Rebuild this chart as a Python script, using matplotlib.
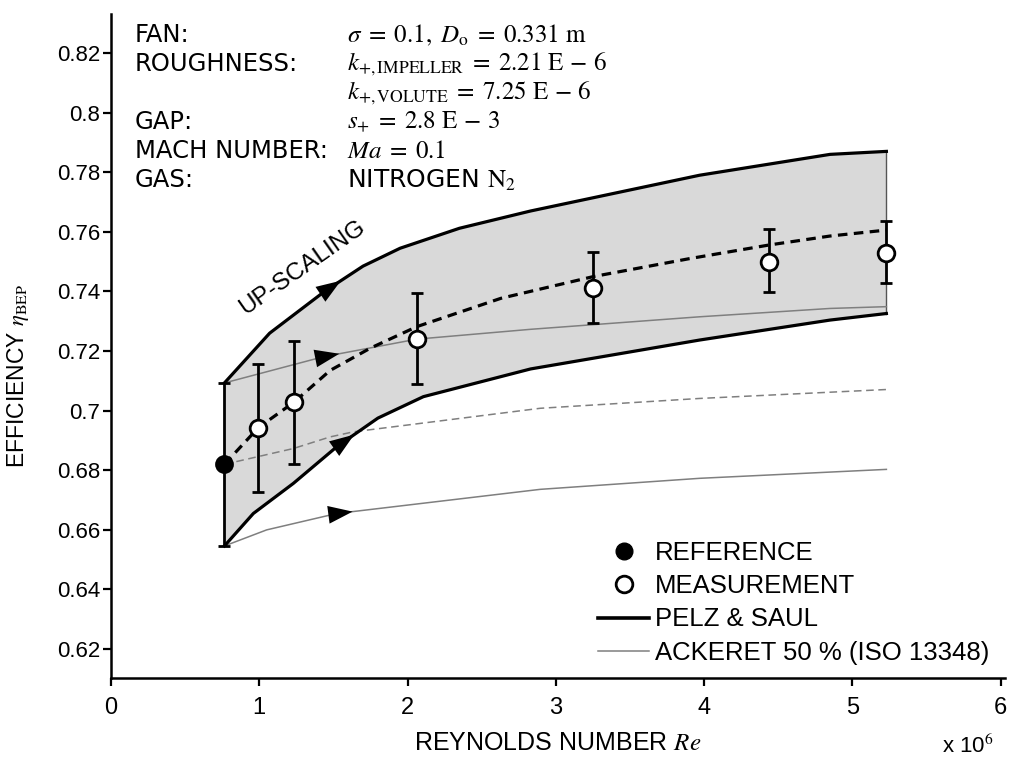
import numpy as np
import matplotlib
matplotlib.use("Agg")
import matplotlib.pyplot as plt
from matplotlib.lines import Line2D

plt.rcParams['mathtext.fontset'] = 'stix'

# ---------------- data ----------------
re_ref = [0.765]
eta_ref = [0.682]
ref_lo = [0.6546]
ref_hi = [0.7093]

re_meas = [0.994, 1.233, 2.063, 3.254, 4.44, 5.23]
eta_meas = [0.6943, 0.7028, 0.7239, 0.7412, 0.750, 0.753]
meas_lo = [0.6726, 0.682, 0.7089, 0.7295, 0.7397, 0.7429]
meas_hi = [0.7155, 0.7235, 0.7396, 0.7533, 0.7608, 0.7636]

fit_x = [0.765, 0.994, 1.233, 1.478, 1.75, 2.063, 2.63, 3.254, 3.9, 4.44, 4.85, 5.23]
fit_y = [0.682, 0.6943, 0.7028, 0.7135, 0.7210, 0.7282, 0.7377, 0.745, 0.751, 0.7556, 0.7586, 0.7606]

pelz_up_x = [0.765, 1.07, 1.44, 1.70, 1.95, 2.35, 2.83, 3.97, 4.85, 5.23]
pelz_up_y = [0.7093, 0.726, 0.740, 0.7485, 0.7545, 0.7612, 0.767, 0.779, 0.786, 0.787]

pelz_lo_x = [0.765, 0.96, 1.23, 1.523, 1.80, 2.107, 2.83, 3.97, 4.85, 5.23]
pelz_lo_y = [0.6546, 0.6655, 0.6756, 0.6879, 0.6975, 0.7047, 0.7140, 0.7237, 0.7304, 0.7326]

ack_up_x = [0.765, 1.433, 2.063, 2.83, 3.97, 4.85, 5.23]
ack_up_y = [0.7093, 0.7181, 0.724, 0.7273, 0.7315, 0.7343, 0.7349]

ack_mid_x = [0.765, 1.23, 1.478, 1.635, 2.895, 3.97, 5.23]
ack_mid_y = [0.682, 0.6873, 0.6912, 0.6929, 0.7008, 0.7041, 0.7071]

ack_lo_x = [0.765, 1.05, 1.523, 2.895, 3.97, 5.23]
ack_lo_y = [0.6546, 0.660, 0.6655, 0.6736, 0.6773, 0.6803]

y_ticks = [0.62, 0.64, 0.66, 0.68, 0.70, 0.72, 0.74, 0.76, 0.78, 0.80, 0.82]
y_ticklabels = ["0.62", "0.64", "0.66", "0.68", "0.7", "0.72", "0.74", "0.76", "0.78", "0.8", "0.82"]
x_ticks = [0, 1, 2, 3, 4, 5, 6]
x_ticklabels = ["0", "1", "2", "3", "4", "5", "6"]

info_labels = ["FAN:", "ROUGHNESS:", "", "GAP:", "MACH NUMBER:", "GAS:"]
info_values = [r"$\sigma\;=\;0.1,\ D_\mathrm{o}\;=\;0.331\ \mathrm{m}$",
               r"$k_{+,\mathrm{IMPELLER}}\;=\;2.21\ \mathrm{E}\,-\,6$",
               r"$k_{+,\mathrm{VOLUTE}}\;=\;7.25\ \mathrm{E}\,-\,6$",
               r"$s_{+}\;=\;2.8\ \mathrm{E}\,-\,3$",
               r"$Ma\;=\;0.1$",
               r"NITROGEN $\mathrm{N}_2$"]

legend_labels = ["REFERENCE", "MEASUREMENT", "PELZ & SAUL", "ACKERET 50 % (ISO 13348)"]

# ---------------- figure ----------------
W, H = 1009, 758
fig = plt.figure(figsize=(W / 100, H / 100), dpi=100)
ax = fig.add_axes([111 / W, 80 / H, (1005 - 111) / W, (678 - 14) / H])
ax.set_xlim(0, 6.03)
ax.set_ylim(0.6103, 0.8331)

sans = ['Liberation Sans', 'DejaVu Sans']
gray = '#7f7f7f'

# band
band_x = np.concatenate([pelz_up_x, pelz_lo_x[::-1]])
band_y = np.concatenate([pelz_up_y, pelz_lo_y[::-1]])
ax.fill(band_x, band_y, color='#d9d9d9', lw=0, zorder=1)
ax.plot([pelz_up_x[-1], pelz_lo_x[-1]], [pelz_up_y[-1], pelz_lo_y[-1]], color='#555555', lw=1.0, zorder=2)

# Ackeret lines
ax.plot(ack_up_x, ack_up_y, color=gray, lw=1.1, zorder=3)
ax.plot(ack_mid_x, ack_mid_y, color=gray, lw=1.1, ls=(0, (5, 3)), zorder=3)
ax.plot(ack_lo_x, ack_lo_y, color=gray, lw=1.1, zorder=3)

# Pelz lines
ax.plot(pelz_up_x, pelz_up_y, color='black', lw=2.3, zorder=4, solid_joinstyle='round')
ax.plot(pelz_lo_x, pelz_lo_y, color='black', lw=2.3, zorder=4, solid_joinstyle='round')

# fit line
ax.plot(fit_x, fit_y, color='black', lw=2.3, ls=(0, (3, 2)), zorder=5)

# arrows along curves
def arrow_on(xs, ys, xa):
    x0, x1 = xa - 0.06, xa + 0.06
    y0, y1 = np.interp(x0, xs, ys), np.interp(x1, xs, ys)
    ax.annotate('', xy=(x1, y1), xytext=(x0, y0),
                arrowprops=dict(arrowstyle='-|>,head_length=1.1,head_width=0.4',
                                color='black', lw=0, shrinkA=0, shrinkB=0,
                                mutation_scale=16), zorder=6)

arrow_on(pelz_up_x, pelz_up_y, 1.49)
arrow_on(ack_up_x, ack_up_y, 1.48)
arrow_on(pelz_lo_x, pelz_lo_y, 1.58)
arrow_on(ack_lo_x, ack_lo_y, 1.57)

# error bars
ax.errorbar(re_ref, eta_ref,
            yerr=[np.array(eta_ref) - np.array(ref_lo), np.array(ref_hi) - np.array(eta_ref)],
            fmt='none', ecolor='black', elinewidth=2.0, capsize=4.5, capthick=2.0, zorder=7)
ax.errorbar(re_meas, eta_meas,
            yerr=[np.array(eta_meas) - np.array(meas_lo), np.array(meas_hi) - np.array(eta_meas)],
            fmt='none', ecolor='black', elinewidth=2.0, capsize=4.5, capthick=2.0, zorder=7)

ax.plot(re_ref, eta_ref, 'o', ms=12, mfc='black', mec='black', mew=1.5, zorder=8)
ax.plot(re_meas, eta_meas, 'o', ms=12, mfc='white', mec='black', mew=2.0, zorder=8)

# axes styling
for s in ['top', 'right']:
    ax.spines[s].set_visible(False)
for s in ['left', 'bottom']:
    ax.spines[s].set_linewidth(1.8)
ax.set_yticks(y_ticks)
ax.set_yticklabels(y_ticklabels, family=sans, fontsize=16)
ax.set_xticks(x_ticks)
ax.set_xticklabels(x_ticklabels, family=sans, fontsize=17)
ax.tick_params(direction='out', length=6, width=1.6)
ax.tick_params(axis='y', pad=2)
ax.tick_params(axis='x', pad=8)

ax.set_xlabel(r"REYNOLDS NUMBER $Re$", family=sans, fontsize=18, labelpad=8)
ax.set_ylabel(r"EFFICIENCY $\eta_{\mathrm{BEP}}$", family=sans, fontsize=16.5)
ax.yaxis.set_label_coords(-0.09, 0.455)

fig.text(968 / W, 1 - 746 / H, r"x 10$^6$", family=sans, fontsize=16, ha='center', va='center')

# info block
rows_y = [35, 64, 93, 122, 151, 180]
for lab, val, yy in zip(info_labels, info_values, rows_y):
    if lab:
        fig.text(135 / W, 1 - yy / H, lab, family='DejaVu Sans', fontsize=17.5, va='center')
    fig.text(347 / W, 1 - yy / H, val, family='DejaVu Sans', fontsize=18, va='center')

# UP-SCALING label
fig.text(302 / W, 1 - 268 / H, "UP-SCALING", family=sans, fontsize=17.5,
         rotation=35, ha='center', va='center')

# legend
handles = [Line2D([], [], ls='none', marker='o', ms=12, mfc='black', mec='black'),
           Line2D([], [], ls='none', marker='o', ms=12, mfc='white', mec='black', mew=2.0),
           Line2D([], [], color='black', lw=2.6),
           Line2D([], [], color=gray, lw=1.1)]
leg = ax.legend(handles, legend_labels, loc='upper left',
                bbox_to_anchor=(598 / W, 1 - 541 / H), bbox_transform=fig.transFigure,
                frameon=False, handlelength=2.0, handletextpad=0.2, labelspacing=0.36,
                borderpad=0, borderaxespad=0, prop={'family': sans, 'size': 18.5})

fig.savefig("out.png", dpi=100)
